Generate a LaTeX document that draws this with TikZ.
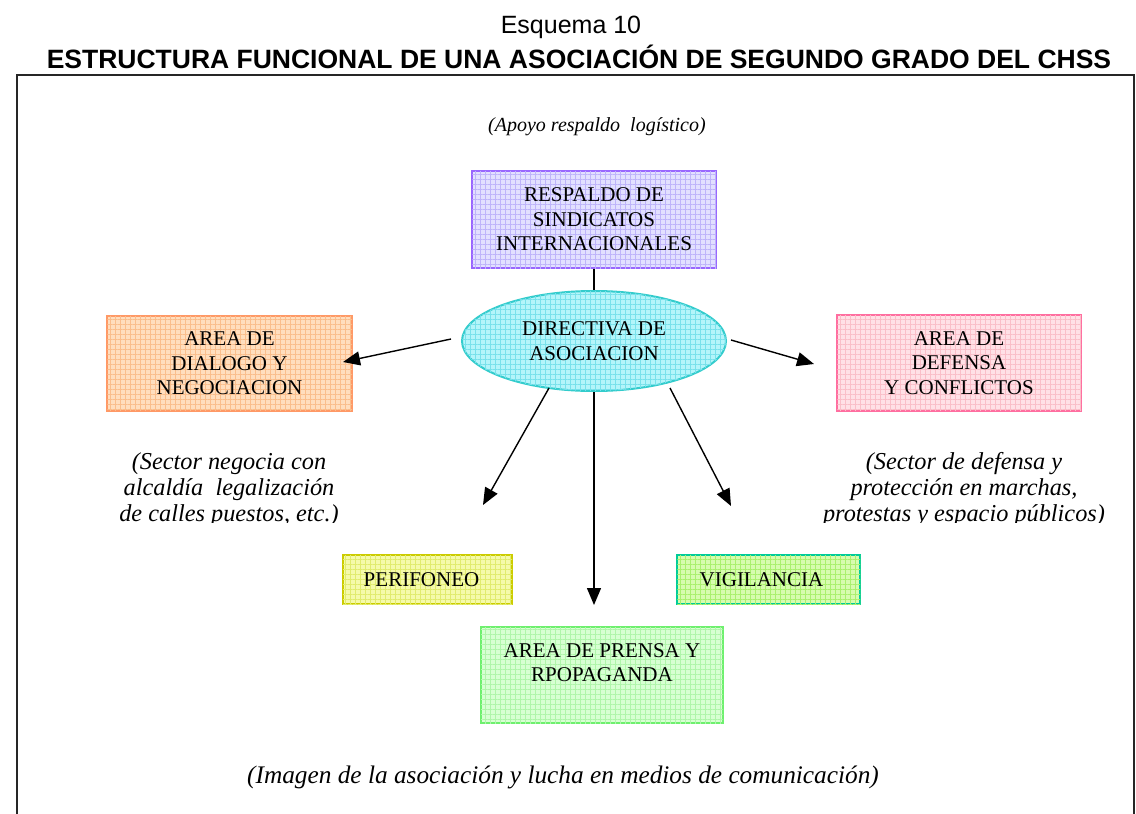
\documentclass[tikz,border=0pt]{standalone}
\usepackage{fontspec}
\setmainfont{Liberation Serif}
\newfontfamily\arialf{Liberation Sans}
\usetikzlibrary{arrows.meta,shapes.geometric,patterns.meta}
\definecolor{purpB}{RGB}{153,102,255}
\definecolor{purpF}{RGB}{226,224,255}
\definecolor{purpG}{RGB}{190,180,250}
\definecolor{cyanB}{RGB}{51,204,204}
\definecolor{cyanF}{RGB}{180,245,250}
\definecolor{cyanG}{RGB}{120,225,235}
\definecolor{orgB}{RGB}{255,153,102}
\definecolor{orgF}{RGB}{255,222,190}
\definecolor{orgG}{RGB}{250,190,140}
\definecolor{pinkB}{RGB}{255,110,160}
\definecolor{pinkF}{RGB}{255,224,230}
\definecolor{pinkG}{RGB}{250,190,200}
\definecolor{yelB}{RGB}{204,204,0}
\definecolor{yelF}{RGB}{245,250,170}
\definecolor{yelG}{RGB}{225,235,110}
\definecolor{vigB}{RGB}{0,204,153}
\definecolor{vigF}{RGB}{215,252,175}
\definecolor{vigG}{RGB}{170,240,110}
\definecolor{grnB}{RGB}{110,240,110}
\definecolor{grnF}{RGB}{215,255,210}
\definecolor{grnG}{RGB}{175,245,170}
\newcommand\mybody{\fontsize{21}{24.5}\selectfont}
\newcommand\mynote{\fontsize{20}{25}\selectfont\itshape}
\newcommand\mybig{\fontsize{24.3}{26}\selectfont\itshape}
\begin{document}
\begin{tikzpicture}[x=1pt,y=-1pt,
  box/.style={draw, line width=2pt, rectangle, inner sep=0pt, align=center, font=\mybody},
  tex/.style={postaction={pattern={Lines[angle=0,distance=5pt,line width=0.5pt]}, pattern color=#1},
              postaction={pattern={Lines[angle=90,distance=5pt,line width=0.5pt]}, pattern color=#1}},
  note/.style={align=center, font=\mynote, inner sep=0pt},
  arr/.style={line width=1.4pt, -{Triangle[length=17pt,width=14pt]}},
  lnk/.style={line width=1.4pt}]
\useasboundingbox (0,0) rectangle (1136,814);
\fill[white] (0,0) rectangle (1136,814);
% titles
\node[anchor=base, inner sep=0pt, font=\arialf\fontsize{25}{30}\selectfont] (t1) at (571,33) {Esquema 10};
\node[anchor=base, inner sep=0pt, font=\arialf\bfseries\fontsize{26.5}{30}\selectfont] (t2) at (579,68) {ESTRUCTURA FUNCIONAL DE UNA ASOCIACIÓN DE SEGUNDO GRADO DEL CHSS};
% frame
\draw[line width=2pt, black!85] (17,816) -- (17,75) -- (1134,75) -- (1134,816);
% notes
\node[anchor=base, note] (n0) at (597,131) {(Apoyo respaldo\ \ logístico)};
\node[anchor=base, note, font=\fontsize{25.3}{26}\selectfont\itshape] (n3) at (563,783) {(Imagen de la asociación y lucha en medios de comunicación)};
\begin{scope}
\clip (60,430) rectangle (1120,522);
\node[note, font=\mybig] (n1) at (229,490) {(Sector negocia con\\alcaldía\ \ legalización\\de calles puestos, etc.)};
\node[note, font=\mybig] (n2) at (964,490) {(Sector de defensa y\\protección en marchas,\\protestas y espacio públicos)};
\end{scope}
% boxes
\node[box, draw=purpB, fill=purpF, tex=purpG, line width=2.6pt, minimum width=244pt, minimum height=97pt] (resp) at (594,219.5) {RESPALDO DE\\SINDICATOS\\INTERNACIONALES};
\node[ellipse, draw=cyanB, fill=cyanF, tex=cyanG, line width=2pt, inner sep=0pt, minimum width=264pt, minimum height=100pt, align=center, font=\mybody] (dir) at (594,341) {DIRECTIVA DE\\ASOCIACION};
\node[box, draw=orgB, fill=orgF, tex=orgG, minimum width=245pt, minimum height=95pt] (dia) at (229.5,363.5) {AREA DE\\DIALOGO Y\\NEGOCIACION};
\node[box, draw=pinkB, fill=pinkF, tex=pinkG, minimum width=244pt, minimum height=96pt] (def) at (959,363) {AREA DE\\DEFENSA\\Y CONFLICTOS};
\node[box, draw=yelB, fill=yelF, tex=yelG, minimum width=169pt, minimum height=49pt] (per) at (427.5,579.5) {PERIFONEO\hspace*{12pt}};
\node[box, draw=vigB, fill=vigF, tex=vigG, minimum width=183pt, minimum height=49pt] (vig) at (768.5,579.5) {VIGILANCIA\hspace*{14pt}};
\node[box, draw=grnB, fill=grnF, tex=grnG, minimum width=242pt, minimum height=96pt] (pre) at (602,675) {AREA DE PRENSA Y\\RPOPAGANDA\\~};
% connector ends
\coordinate (a1s) at (451,339); \coordinate (a1e) at (343,362);
\coordinate (a2s) at (731,340); \coordinate (a2e) at (814,364);
\coordinate (a3s) at (549,388); \coordinate (a3e) at (483,505);
\coordinate (a4s) at (594,392); \coordinate (a4e) at (594,605);
\coordinate (a5s) at (670,388); \coordinate (a5e) at (731,506);
% connectors
\draw[lnk] (resp.south) -- (dir.north);
\draw[arr] (a1s) -- (a1e);
\draw[arr] (a2s) -- (a2e);
\draw[arr] (a3s) -- (a3e);
\draw[arr] (a4s) -- (a4e);
\draw[arr] (a5s) -- (a5e);
\end{tikzpicture}
\end{document}
